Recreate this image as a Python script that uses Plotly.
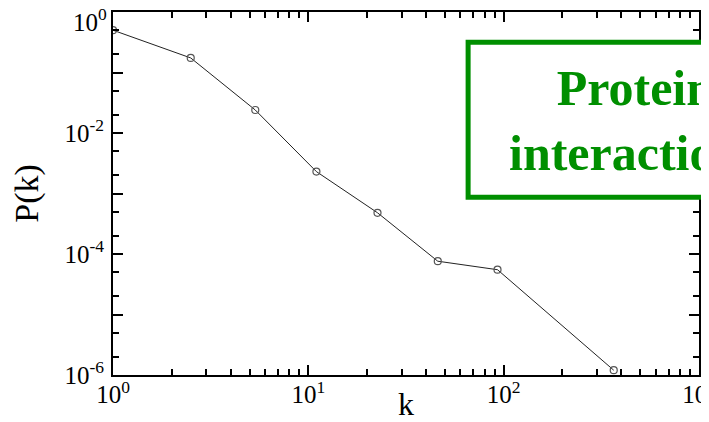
import plotly.graph_objects as go

# degree distribution
k = [1.0, 2.5, 5.35, 11.0, 22.6, 46.0, 93.0, 366.0]
pk = [0.5, 0.174, 0.024, 0.0023, 4.8e-4, 7.6e-5, 5.5e-5, 1.2e-6]

x_tickvals = [1, 10, 100, 1000]
x_ticktext = ['10<sup>0</sup>', '10<sup>1</sup>', '10<sup>2</sup>', '10<sup>3</sup>']
y_tickvals = [1, 1e-1, 1e-2, 1e-3, 1e-4, 1e-5, 1e-6]
# top label is drawn separately, nudged down so it stays on the page
y_ticktext = ['', '', '10<sup>-2</sup>', '', '10<sup>-4</sup>', '', '10<sup>-6</sup>']
y_top_label = '10<sup>0</sup>'

x_minor = [m * 10 ** e for e in range(3) for m in range(2, 10)]
y_minor = [m * 10 ** -e for e in range(1, 7) for m in (2, 5)]

serif = 'Liberation Serif'

fig = go.Figure()
fig.add_trace(go.Scatter(x=k, y=pk, mode='lines+markers',
                         line=dict(color='#222222', width=1),
                         marker=dict(symbol='circle-open', size=7, color='#555555',
                                     line=dict(width=1.2)),
                         showlegend=False))

axis_common = dict(type='log', showgrid=False, zeroline=False, showline=True,
                   linecolor='black', linewidth=2, mirror='ticks', automargin=False,
                   ticks='inside', ticklen=10, tickwidth=1.5, tickcolor='black',
                   ticklabeloverflow='allow',
                   tickfont=dict(family=serif, size=25, color='black'))

fig.update_xaxes(range=[0, 3], tickmode='array', tickvals=x_tickvals, ticktext=x_ticktext,
                 ticklabelstandoff=-4,
                 minor=dict(tickmode='array', tickvals=x_minor, ticks='inside',
                            ticklen=6, tickwidth=1.5, tickcolor='black'),
                 title=dict(text='k', font=dict(family=serif, size=32, color='black'), standoff=0),
                 **axis_common)
fig.update_yaxes(range=[-6, 0], tickmode='array', tickvals=y_tickvals, ticktext=y_ticktext,
                 ticklabelstandoff=2,
                 minor=dict(tickmode='array', tickvals=y_minor, ticks='inside',
                            ticklen=6, tickwidth=1.5, tickcolor='black'),
                 title=dict(text='P(k)', font=dict(family=serif, size=34, color='black'), standoff=20),
                 **axis_common)

fig.add_annotation(xref='paper', yref='y', x=0, y=0, xanchor='right', yanchor='middle',
                   xshift=-4, yshift=-8, text=y_top_label, showarrow=False,
                   font=dict(family=serif, size=25, color='black'))

# green label box, running off the right edge
fig.add_shape(type='rect', xref='paper', yref='paper', x0=0.606, x1=1.18, y0=0.49, y1=0.917,
              line=dict(color='#008f00', width=5), fillcolor='white', layer='above')
fig.add_annotation(xref='paper', yref='paper', x=0.891, y=0.702, xanchor='center', yanchor='middle',
                   text='<b>Protein<br>interactions</b>', showarrow=False,
                   font=dict(family=serif, size=50, color='#008f00'))

# page body has an 8px margin, so the figure is sized to the visible area
fig.update_layout(width=701, height=414, margin=dict(l=105, r=10, t=4, b=47),
                  paper_bgcolor='white', plot_bgcolor='white')

fig.write_html("out.html")
